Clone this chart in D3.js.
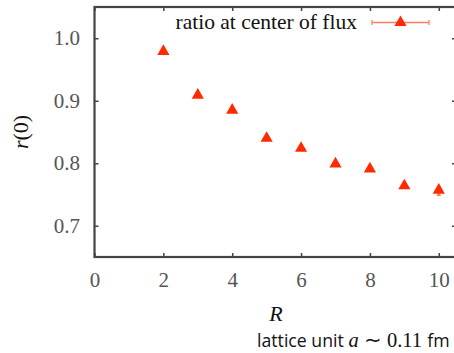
<!DOCTYPE html>
<html>
<head>
<meta charset="utf-8">
<script src="https://cdn.jsdelivr.net/npm/d3@7"></script>
<style>
  body { margin: 0; background: #fff; }
  svg { display: block; }
</style>
</head>
<body>
<div id="chart"></div>
<script>
// data
var radii = [2, 3, 4, 5, 6, 7, 8, 9, 10];
var ratio = [0.979, 0.909, 0.885, 0.840, 0.824, 0.799, 0.791, 0.764, 0.757];
var ratioErr = [0.002, 0.002, 0.002, 0.002, 0.002, 0.003, 0.003, 0.004, 0.008];
var xTicks = [0, 2, 4, 6, 8, 10];
var yTicks = [0.7, 0.8, 0.9, 1.0];
var seriesName = "ratio at center of flux";

var W = 454, H = 353;
var margin = {top: 7, right: -2, bottom: 96, left: 94.5},
  width = W - margin.left - margin.right,
  height = H - margin.top - margin.bottom;

var red = "#ff2a00";
var axisCol = "#444";
var serif = "'Liberation Serif', 'Times New Roman', serif";

var svg = d3.select("#chart")
  .append("svg")
  .attr("width", W)
  .attr("height", H);

var g = svg.append("g")
  .attr("transform", "translate(" + margin.left + "," + margin.top + ")");

var x = d3.scaleLinear().domain([0, 10.5]).range([0, width]);
var y = d3.scaleLinear().domain([0.65, 1.05]).range([height, 0]);

// ticks on all four sides, pointing inward
var tickLen = 4;
g.append("g")
  .attr("transform", "translate(0," + height + ")")
  .call(d3.axisBottom(x).tickValues(xTicks).tickSizeInner(-tickLen).tickSizeOuter(0).tickPadding(15).tickFormat(d3.format("d")))
  .call(function(a) { a.select(".domain").remove(); });
g.append("g")
  .call(d3.axisTop(x).tickValues(xTicks).tickSizeInner(-tickLen).tickSizeOuter(0).tickFormat(""))
  .call(function(a) { a.select(".domain").remove(); });
g.append("g")
  .call(d3.axisLeft(y).tickValues(yTicks).tickSizeInner(-tickLen).tickSizeOuter(0).tickPadding(14.5).tickFormat(d3.format(".1f")))
  .call(function(a) { a.select(".domain").remove(); });
g.append("g")
  .attr("transform", "translate(" + width + ",0)")
  .call(d3.axisRight(y).tickValues(yTicks).tickSizeInner(-tickLen).tickSizeOuter(0).tickFormat(""))
  .call(function(a) { a.select(".domain").remove(); });

g.selectAll("g").attr("font-family", serif).attr("font-size", 21);
g.selectAll(".tick line").attr("stroke", axisCol).attr("stroke-width", 1.5);
g.selectAll(".tick text").attr("fill", "#555");

// frame
g.append("rect")
  .attr("width", width)
  .attr("height", height)
  .attr("fill", "none")
  .attr("stroke", axisCol)
  .attr("stroke-width", 2.2);

// error bars
var pts = radii.map(function(r, i) { return {r: r, v: ratio[i], e: ratioErr[i]}; });
g.selectAll(".err")
  .data(pts)
  .enter()
  .append("line")
  .attr("x1", function(d) { return x(d.r); })
  .attr("x2", function(d) { return x(d.r); })
  .attr("y1", function(d) { return y(d.v - d.e); })
  .attr("y2", function(d) { return y(d.v + d.e); })
  .attr("stroke", red)
  .attr("stroke-width", 1);
g.selectAll(".cap")
  .data(pts)
  .enter()
  .append("line")
  .attr("x1", function(d) { return x(d.r) - 2; })
  .attr("x2", function(d) { return x(d.r) + 2; })
  .attr("y1", function(d) { return y(d.v - d.e); })
  .attr("y2", function(d) { return y(d.v - d.e); })
  .attr("stroke", red)
  .attr("stroke-width", 1);

var tri = d3.symbol().type(d3.symbolTriangle).size(64);
g.selectAll(".pt")
  .data(pts)
  .enter()
  .append("path")
  .attr("d", tri)
  .attr("transform", function(d) { return "translate(" + x(d.r) + "," + y(d.v) + ")"; })
  .attr("fill", red);

// legend
var legY = 22.5;
svg.append("text")
  .attr("x", 357)
  .attr("y", legY + 6.5)
  .attr("text-anchor", "end")
  .attr("font-family", serif)
  .attr("font-size", 21.5)
  .attr("fill", "#111")
  .text(seriesName);
svg.append("line")
  .attr("x1", 372).attr("x2", 429)
  .attr("y1", legY).attr("y2", legY)
  .attr("stroke", "#ff7a68").attr("stroke-width", 1.5);
[372, 429].forEach(function(cx) {
  svg.append("line")
    .attr("x1", cx).attr("x2", cx)
    .attr("y1", legY - 2.5).attr("y2", legY + 2.5)
    .attr("stroke", "#ff7a68").attr("stroke-width", 1.2);
});
svg.append("path")
  .attr("d", tri)
  .attr("transform", "translate(400.5," + legY + ")")
  .attr("fill", red);

// axis titles
svg.append("text")
  .attr("transform", "translate(28," + (margin.top + y(0.85)) + ") rotate(-90)")
  .attr("text-anchor", "middle")
  .attr("font-family", serif)
  .attr("font-size", 22)
  .attr("fill", "#111")
  .html("<tspan font-style='italic'>r</tspan>(0)");

svg.append("text")
  .attr("x", 276)
  .attr("y", 321)
  .attr("text-anchor", "middle")
  .attr("font-family", serif)
  .attr("font-size", 22)
  .attr("font-style", "italic")
  .attr("fill", "#111")
  .text("R");

var cap = svg.append("text")
  .attr("x", 257)
  .attr("y", 347)
  .attr("font-size", 17.7)
  .attr("fill", "#111");
cap.append("tspan").attr("font-family", "'Open Sans', 'Noto Sans', sans-serif").text("lattice unit ");
cap.append("tspan").attr("font-family", serif).attr("font-style", "italic").attr("font-size", 20.5).text("a");
cap.append("tspan").attr("font-family", serif).attr("font-size", 20.5).text(" \u223C 0.11 ");
cap.append("tspan").attr("font-family", "'Open Sans', 'Noto Sans', sans-serif").text("fm");
</script>
</body>
</html>
